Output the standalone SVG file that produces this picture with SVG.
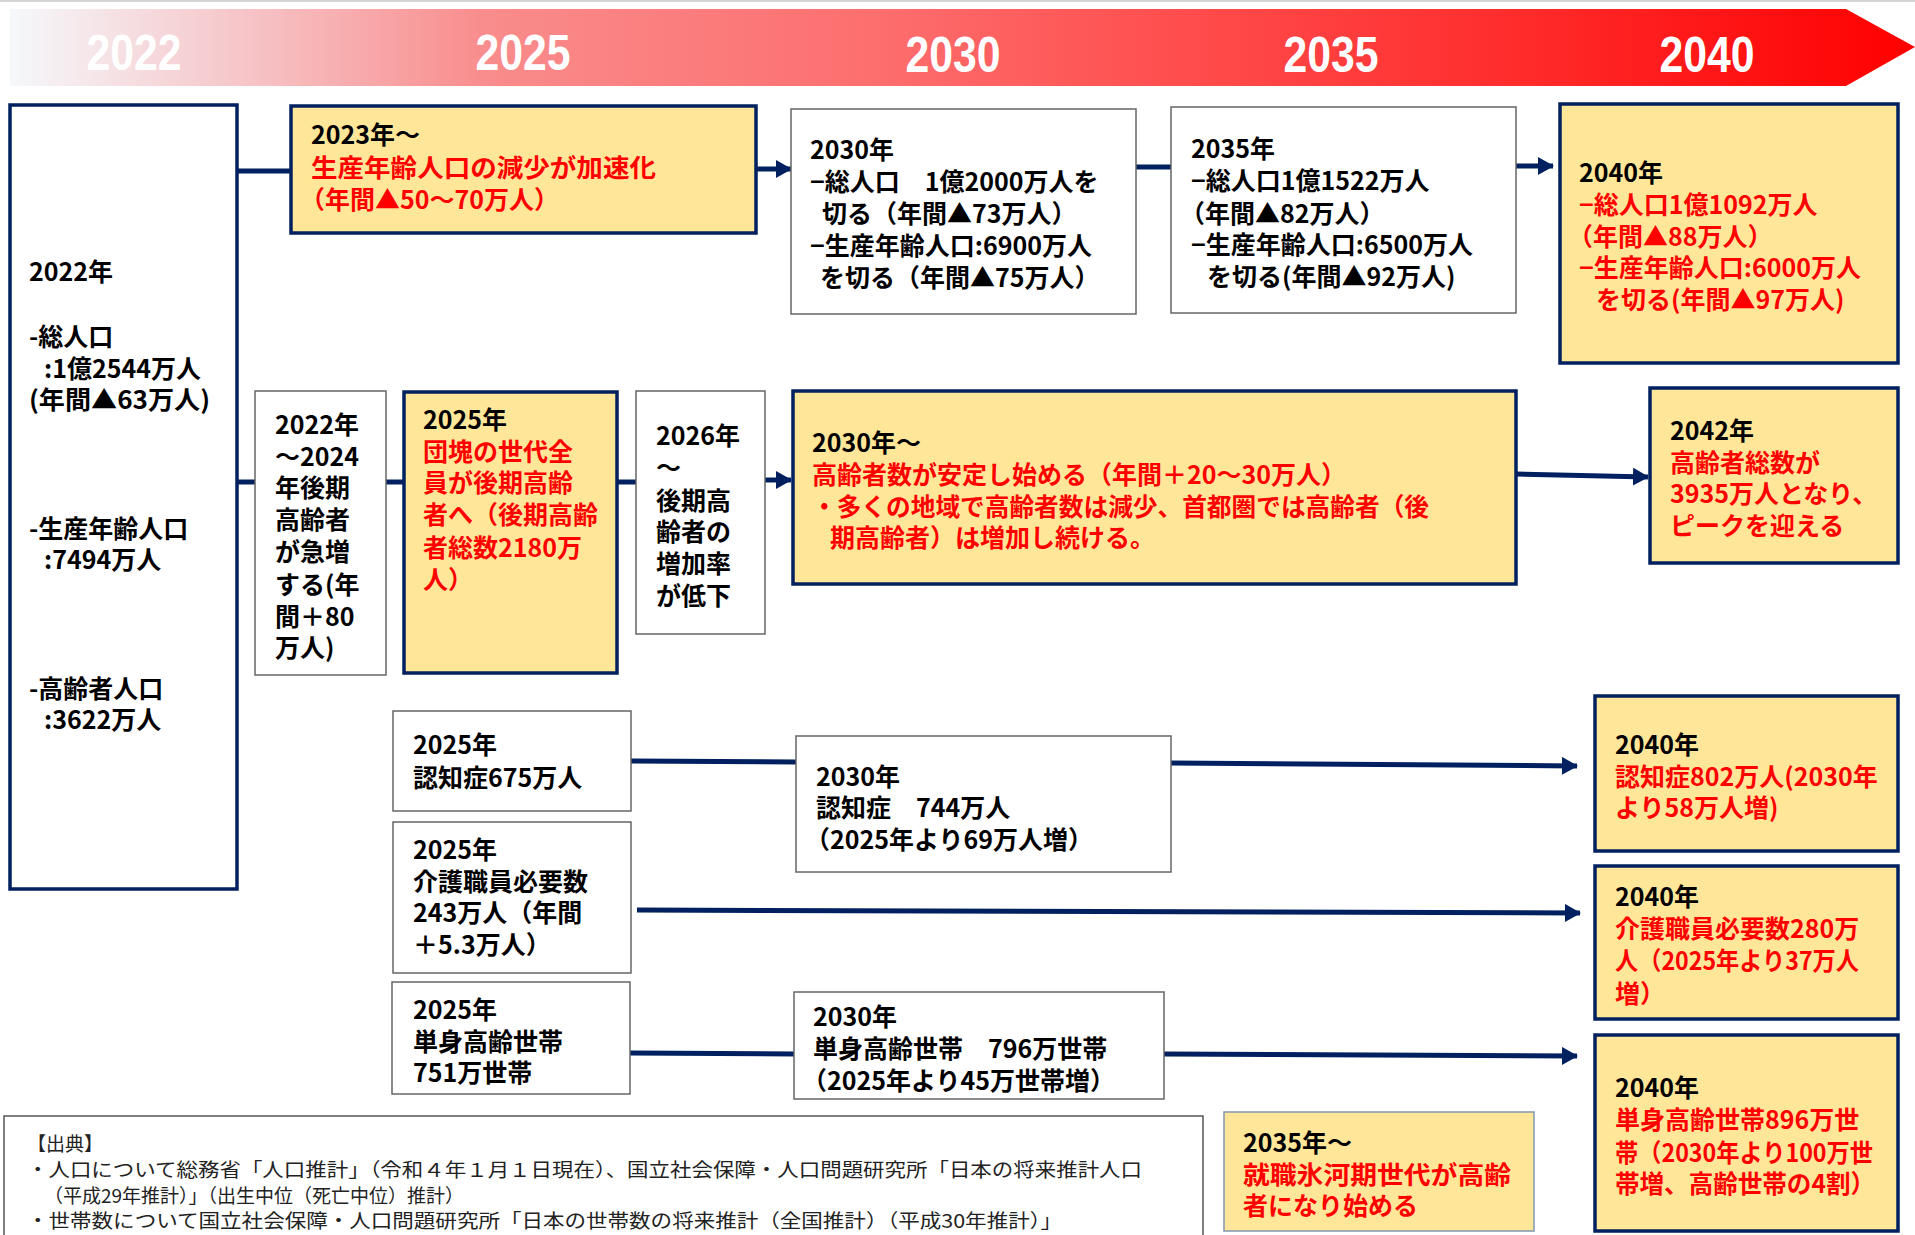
<svg xmlns="http://www.w3.org/2000/svg" width="1915" height="1235" viewBox="0 0 1915 1235">
<defs>
<linearGradient id="hdr" x1="0" y1="0" x2="1" y2="0">
<stop offset="0" stop-color="#f5f8fb"/>
<stop offset="0.12" stop-color="#f6c6c9"/>
<stop offset="0.25" stop-color="#f98c8c"/>
<stop offset="0.45" stop-color="#fd6f6f"/>
<stop offset="0.62" stop-color="#ff4c4c"/>
<stop offset="0.8" stop-color="#ff2a2a"/>
<stop offset="1" stop-color="#ff0000"/>
</linearGradient>
<marker id="ah" markerUnits="userSpaceOnUse" markerWidth="16" markerHeight="18" refX="15" refY="9" orient="auto">
<path d="M0,0 L16,9 L0,18 z" fill="#002060"/>
</marker>
<style>
.w{fill:#ffffff;stroke:#666666;stroke-width:1.5}
.y{fill:#ffe699;stroke:#002060;stroke-width:3.5}
.nv{fill:#ffffff;stroke:#002060;stroke-width:3.5}
.ys{fill:#ffe699;stroke:#8496b0;stroke-width:1.5}
.t{font-family:"Noto Sans CJK JP","Noto Sans",sans-serif;font-weight:bold;font-size:25px;fill:#000}
.r{fill:#ff0000}
.yr{font-family:"Liberation Sans",Arial,sans-serif;font-weight:bold;font-size:50px;fill:#ffffff}
.ft{font-family:"Noto Sans CJK JP","Noto Sans",sans-serif;font-size:19px;fill:#222}
.c{stroke:#002060;stroke-width:5;fill:none}
</style>
</defs>
<rect x="0" y="0" width="1915" height="1235" fill="#ffffff"/>
<rect x="0" y="0" width="1915" height="2" fill="#d4d4d4"/>
<g id="header">
<polygon points="10,9 1846,9 1915,47 1846,86 10,86" fill="url(#hdr)"/>
<text class="yr" x="134" y="70" text-anchor="middle" textLength="95" lengthAdjust="spacingAndGlyphs">2022</text>
<text class="yr" x="523" y="70" text-anchor="middle" textLength="95" lengthAdjust="spacingAndGlyphs">2025</text>
<text class="yr" x="953" y="72" text-anchor="middle" textLength="95" lengthAdjust="spacingAndGlyphs">2030</text>
<text class="yr" x="1331" y="72" text-anchor="middle" textLength="95" lengthAdjust="spacingAndGlyphs">2035</text>
<text class="yr" x="1707" y="72" text-anchor="middle" textLength="95" lengthAdjust="spacingAndGlyphs">2040</text>
</g>
<g id="connectors">
<line class="c" x1="237" y1="171" x2="291" y2="171"/>
<line class="c" x1="756" y1="169" x2="791" y2="169" marker-end="url(#ah)"/>
<line class="c" x1="1136" y1="167" x2="1171" y2="167"/>
<line class="c" x1="1516" y1="166" x2="1553" y2="166" marker-end="url(#ah)"/>
<line class="c" x1="237" y1="482" x2="255" y2="482"/>
<line class="c" x1="386" y1="482" x2="404" y2="482"/>
<line class="c" x1="617" y1="482" x2="636" y2="482"/>
<line class="c" x1="765" y1="480" x2="791" y2="480" marker-end="url(#ah)"/>
<line class="c" x1="1516" y1="474" x2="1648" y2="477" marker-end="url(#ah)"/>
<line class="c" x1="631" y1="761" x2="796" y2="762"/>
<line class="c" x1="1171" y1="763" x2="1577" y2="766" marker-end="url(#ah)"/>
<line class="c" x1="637" y1="910" x2="1580" y2="913" marker-end="url(#ah)"/>
<line class="c" x1="630" y1="1053" x2="794" y2="1054"/>
<line class="c" x1="1164" y1="1054" x2="1577" y2="1056" marker-end="url(#ah)"/>
</g>
<g id="n2022">
<rect class="nv" x="10" y="105" width="227" height="784"/>
<text class="t" x="29" y="281">2022年</text>
<text class="t" x="29" y="346">-総人口</text>
<text class="t" x="44" y="378">:1億2544万人</text>
<text class="t" x="29" y="409" textLength="181" lengthAdjust="spacingAndGlyphs">(年間▲63万人)</text>
<text class="t" x="29" y="538">-生産年齢人口</text>
<text class="t" x="44" y="569">:7494万人</text>
<text class="t" x="29" y="698">-高齢者人口</text>
<text class="t" x="44" y="729">:3622万人</text>
</g>
<g id="n2023">
<rect class="y" x="291" y="106" width="465" height="127"/>
<text class="t" x="311" y="144">2023年～</text>
<text class="t r" x="311" y="177" textLength="345" lengthAdjust="spacingAndGlyphs">生産年齢人口の減少が加速化</text>
<text class="t r" x="300" y="209">（年間▲50～70万人）</text>
</g>
<g id="n2030pop">
<rect class="w" x="791" y="109" width="345" height="205"/>
<text class="t" x="810" y="159">2030年</text>
<text class="t" x="810" y="191">−総人口　1億2000万人を</text>
<text class="t" x="822" y="223">切る（年間▲73万人）</text>
<text class="t" x="810" y="255">−生産年齢人口:6900万人</text>
<text class="t" x="820" y="287">を切る（年間▲75万人）</text>
</g>
<g id="n2035pop">
<rect class="w" x="1171" y="107" width="345" height="206"/>
<text class="t" x="1191" y="158">2035年</text>
<text class="t" x="1191" y="190">−総人口1億1522万人</text>
<text class="t" x="1180" y="223">（年間▲82万人）</text>
<text class="t" x="1191" y="254">−生産年齢人口:6500万人</text>
<text class="t" x="1207" y="286">を切る(年間▲92万人)</text>
</g>
<g id="n2040pop">
<rect class="y" x="1560" y="104" width="338" height="259"/>
<text class="t" x="1579" y="182">2040年</text>
<text class="t r" x="1579" y="214">−総人口1億1092万人</text>
<text class="t r" x="1568" y="246">（年間▲88万人）</text>
<text class="t r" x="1579" y="277">−生産年齢人口:6000万人</text>
<text class="t r" x="1596" y="309">を切る(年間▲97万人)</text>
</g>
<g id="n2022to2024">
<rect class="w" x="255" y="391" width="131" height="284"/>
<text class="t" x="275" y="434">2022年</text>
<text class="t" x="275" y="466">～2024</text>
<text class="t" x="275" y="497">年後期</text>
<text class="t" x="275" y="529">高齢者</text>
<text class="t" x="275" y="561">が急増</text>
<text class="t" x="275" y="594">する(年</text>
<text class="t" x="275" y="626">間＋80</text>
<text class="t" x="275" y="657">万人)</text>
</g>
<g id="n2025dankai">
<rect class="y" x="404" y="392" width="213" height="281"/>
<text class="t" x="423" y="429">2025年</text>
<text class="t r" x="423" y="461">団塊の世代全</text>
<text class="t r" x="423" y="492">員が後期高齢</text>
<text class="t r" x="423" y="524">者へ（後期高齢</text>
<text class="t r" x="423" y="557">者総数2180万</text>
<text class="t r" x="423" y="589">人）</text>
</g>
<g id="n2026">
<rect class="w" x="636" y="391" width="129" height="243"/>
<text class="t" x="656" y="445">2026年</text>
<text class="t" x="656" y="477">～</text>
<text class="t" x="656" y="510">後期高</text>
<text class="t" x="656" y="541">齢者の</text>
<text class="t" x="656" y="573">増加率</text>
<text class="t" x="656" y="605">が低下</text>
</g>
<g id="n2030old">
<rect class="y" x="793" y="391" width="723" height="193"/>
<text class="t" x="812" y="452">2030年～</text>
<text class="t r" x="812" y="484">高齢者数が安定し始める（年間＋20～30万人）</text>
<text class="t r" x="812" y="516" textLength="617" lengthAdjust="spacingAndGlyphs">・多くの地域で高齢者数は減少、首都圏では高齢者（後</text>
<text class="t r" x="830" y="547">期高齢者）は増加し続ける。</text>
</g>
<g id="n2042">
<rect class="y" x="1650" y="388" width="248" height="175"/>
<text class="t" x="1670" y="440">2042年</text>
<text class="t r" x="1670" y="472">高齢者総数が</text>
<text class="t r" x="1670" y="503">3935万人となり、</text>
<text class="t r" x="1670" y="535">ピークを迎える</text>
</g>
<g id="n2025dem">
<rect class="w" x="393" y="711" width="238" height="100"/>
<text class="t" x="413" y="754">2025年</text>
<text class="t" x="413" y="787">認知症675万人</text>
</g>
<g id="n2030dem">
<rect class="w" x="796" y="736" width="375" height="136"/>
<text class="t" x="816" y="786">2030年</text>
<text class="t" x="816" y="817">認知症　744万人</text>
<text class="t" x="805" y="849">（2025年より69万人増）</text>
</g>
<g id="n2040dem">
<rect class="y" x="1595" y="696" width="303" height="155"/>
<text class="t" x="1615" y="754">2040年</text>
<text class="t r" x="1615" y="786">認知症802万人(2030年</text>
<text class="t r" x="1615" y="817">より58万人増)</text>
</g>
<g id="n2025care">
<rect class="w" x="393" y="822" width="238" height="151"/>
<text class="t" x="413" y="859">2025年</text>
<text class="t" x="413" y="891">介護職員必要数</text>
<text class="t" x="413" y="922">243万人（年間</text>
<text class="t" x="413" y="954">＋5.3万人）</text>
</g>
<g id="n2040care">
<rect class="y" x="1595" y="866" width="303" height="153"/>
<text class="t" x="1615" y="906">2040年</text>
<text class="t r" x="1615" y="938">介護職員必要数280万</text>
<text class="t r" x="1615" y="970" textLength="244" lengthAdjust="spacingAndGlyphs">人（2025年より37万人</text>
<text class="t r" x="1615" y="1003">増）</text>
</g>
<g id="n2025single">
<rect class="w" x="392" y="982" width="238" height="112"/>
<text class="t" x="413" y="1019">2025年</text>
<text class="t" x="413" y="1051">単身高齢世帯</text>
<text class="t" x="413" y="1082">751万世帯</text>
</g>
<g id="n2030single">
<rect class="w" x="794" y="992" width="370" height="107"/>
<text class="t" x="813" y="1026">2030年</text>
<text class="t" x="813" y="1058">単身高齢世帯　796万世帯</text>
<text class="t" x="802" y="1090">（2025年より45万世帯増）</text>
</g>
<g id="n2040single">
<rect class="y" x="1595" y="1035" width="303" height="196"/>
<text class="t" x="1615" y="1097">2040年</text>
<text class="t r" x="1615" y="1129">単身高齢世帯896万世</text>
<text class="t r" x="1615" y="1162" textLength="258" lengthAdjust="spacingAndGlyphs">帯（2030年より100万世</text>
<text class="t r" x="1615" y="1193" textLength="260" lengthAdjust="spacingAndGlyphs">帯増、高齢世帯の4割）</text>
</g>
<g id="n2035ice">
<rect class="ys" x="1224" y="1112" width="310" height="119"/>
<text class="t" x="1243" y="1152">2035年～</text>
<text class="t r" x="1243" y="1184" textLength="268" lengthAdjust="spacingAndGlyphs">就職氷河期世代が高齢</text>
<text class="t r" x="1243" y="1215">者になり始める</text>
</g>
<g id="source">
<rect x="4" y="1116" width="1199" height="130" fill="#ffffff" stroke="#555555" stroke-width="1.5"/>
<text class="ft" x="27" y="1151">【出典】</text>
<text class="ft" x="27" y="1177" textLength="1115" lengthAdjust="spacingAndGlyphs">・人口について総務省「人口推計」（令和４年１月１日現在）、国立社会保障・人口問題研究所「日本の将来推計人口</text>
<text class="ft" x="44" y="1203">（平成29年推計）」（出生中位（死亡中位）推計）</text>
<text class="ft" x="27" y="1228" textLength="1035" lengthAdjust="spacingAndGlyphs">・世帯数について国立社会保障・人口問題研究所「日本の世帯数の将来推計（全国推計）（平成30年推計）」</text>
</g>
</svg>
